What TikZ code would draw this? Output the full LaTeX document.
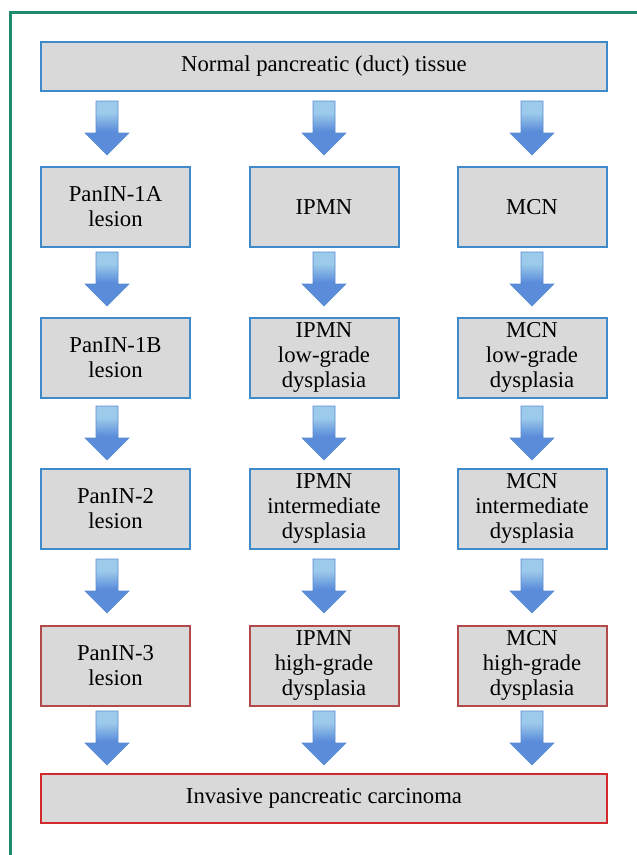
\documentclass[tikz,border=0pt]{standalone}
\usepackage{fontspec}
\setmainfont{Liberation Serif}
\definecolor{boxfill}{HTML}{D9D9D9}
\definecolor{blueline}{HTML}{3E8BCB}
\definecolor{redline}{HTML}{B24A4C}
\definecolor{redbright}{HTML}{D02A2E}
\definecolor{greenline}{HTML}{1E8B6D}
\definecolor{alight}{HTML}{9CCAEB}
\definecolor{adark}{HTML}{5A8CDA}
\definecolor{aedge}{HTML}{5C8DD0}
\pgfdeclareverticalshading{arrsh}{100bp}{color(0bp)=(adark); color(47bp)=(adark); color(64bp)=(alight); color(100bp)=(alight)}
\tikzset{
  stage/.style={draw=blueline, line width=2pt, fill=boxfill, align=center,
    font=\fontsize{22.7}{25}\selectfont, inner sep=0pt},
  hg/.style={stage, draw=redline},
  wide/.style={stage, minimum width=566pt, minimum height=49pt},
  colbox/.style={minimum width=149pt, minimum height=80pt},
  flowarrow/.style={draw=aedge, line width=0.6pt, shading=arrsh},
  barrow/.pic={\path[flowarrow] (-11,0) -- (11,0) -- (11,32) -- (22,32) -- (0,54) -- (-22,32) -- (-11,32) -- cycle;}
}
\begin{document}
\begin{tikzpicture}[x=1pt,y=-1pt]
\clip (0,0) rectangle (637,855);
\fill[white] (0,0) rectangle (637,855);
\draw[greenline, line width=3pt] (10,12) rectangle (700,920);

\node[wide] (top) at (324,66.5) {Normal pancreatic (duct) tissue};

\node[stage, colbox] (p1a) at (115.5,207) {PanIN-1A\\lesion};
\node[stage, colbox] (ip) at (324,207) {IPMN};
\node[stage, colbox] (mc) at (532,207) {MCN};

\node[stage, colbox] (p1b) at (115.5,357.5) {PanIN-1B\\lesion};
\node[stage, colbox] (iplg) at (324,357.5) {IPMN\\low-grade\\dysplasia};
\node[stage, colbox] (mclg) at (532,357.5) {MCN\\low-grade\\dysplasia};

\node[stage, colbox] (p2) at (115.5,508.5) {PanIN-2\\lesion};
\node[stage, colbox] (ipim) at (324,508.5) {IPMN\\intermediate\\dysplasia};
\node[stage, colbox] (mcim) at (532,508.5) {MCN\\intermediate\\dysplasia};

\node[hg, colbox] (p3) at (115.5,665.5) {PanIN-3\\lesion};
\node[hg, colbox] (iphg) at (324,665.5) {IPMN\\high-grade\\dysplasia};
\node[hg, colbox] (mchg) at (532,665.5) {MCN\\high-grade\\dysplasia};

\node[wide, draw=redbright] (inv) at (324,798) {Invasive pancreatic carcinoma};

\foreach \yy in {101,252,406,559,711}{
  \foreach \xx in {107,324,532}{
    \pic at (\xx,\yy) {barrow};
  }
}
\end{tikzpicture}
\end{document}
